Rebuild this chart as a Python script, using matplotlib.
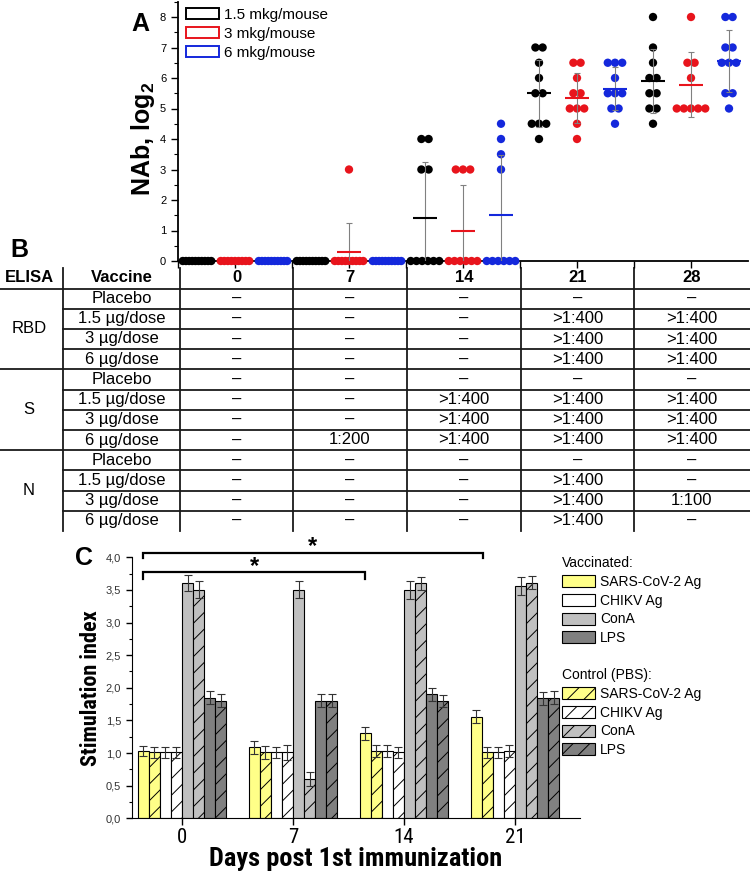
import numpy as np
import matplotlib
matplotlib.use("Agg")
import matplotlib.pyplot as plt
from matplotlib import font_manager as fm
from matplotlib.patches import Patch
from matplotlib.ticker import MultipleLocator, FuncFormatter, FixedLocator, NullFormatter

plt.rcParams['font.family'] = ['Liberation Sans', 'DejaVu Sans']
plt.rcParams['mathtext.fontset'] = 'custom'
plt.rcParams['mathtext.rm'] = 'Liberation Sans'
plt.rcParams['mathtext.bf'] = 'Liberation Sans:bold'
plt.rcParams['hatch.linewidth'] = 0.7

# ---------------- panel A: neutralising antibodies (log2) per mouse
doses_a = ["1.5 mkg/mouse", "3 mkg/mouse", "6 mkg/mouse"]
dose_colors = ["black", "#e8141c", "#1428dc"]
nab_day0 = [[0] * 10, [0] * 9, [0] * 10]
nab_day7 = [[0] * 10, [3] + [0] * 9, [0] * 10]
nab_day14 = [[4, 4, 3, 3, 0, 0, 0, 0, 0, 0],
             [3, 3, 3, 0, 0, 0, 0, 0, 0],
             [4.5, 4, 3.5, 3, 0, 0, 0, 0, 0, 0]]
nab_day21 = [[7, 7, 6.5, 6, 5.5, 5.5, 4.5, 4.5, 4.5, 4],
             [6.5, 6.5, 6, 5.5, 5.5, 5, 5, 5, 4.5, 4],
             [6.5, 6.5, 6.5, 6, 5.5, 5.5, 5.5, 5, 5, 4.5]]
nab_day28 = [[8, 7, 6.5, 6, 6, 5.5, 5.5, 5, 5, 4.5],
             [8, 6.5, 6.5, 6, 5, 5, 5, 5, 5],
             [8, 8, 7, 7, 6.5, 6.5, 6.5, 5.5, 5.5, 5]]
nab_all = [nab_day0, nab_day7, nab_day14, nab_day21, nab_day28]

# ---------------- panel B: ELISA table
table_header = ["ELISA", "Vaccine", "0", "7", "14", "21", "28"]
antigens = ["RBD", "S", "N"]
vaccines = ["Placebo", "1.5 µg/dose", "3 µg/dose", "6 µg/dose"]
D = "–"
P = ">1:400"
elisa_rbd = [[D, D, D, D, D], [D, D, D, P, P], [D, D, D, P, P], [D, D, D, P, P]]
elisa_s = [[D, D, D, D, D], [D, D, P, P, P], [D, D, P, P, P], [D, "1:200", P, P, P]]
elisa_n = [[D, D, D, D, D], [D, D, D, P, D], [D, D, D, P, "1:100"], [D, D, D, P, D]]

# ---------------- panel C: stimulation index
days_c = ["0", "7", "14", "21"]
sars_vac = [1.03, 1.09, 1.30, 1.56]
sars_vac_err = [0.08, 0.10, 0.10, 0.10]
sars_pbs = [1.01, 1.01, 1.03, 1.01]
sars_pbs_err = [0.08, 0.10, 0.09, 0.08]
chikv_vac = [1.01, 1.01, 1.03, 1.01]
chikv_vac_err = [0.08, 0.08, 0.09, 0.08]
chikv_pbs = [1.01, 1.01, 1.01, 1.03]
chikv_pbs_err = [0.08, 0.12, 0.08, 0.09]
cona_vac = [3.61, 3.50, 3.50, 3.56]
cona_vac_err = [0.12, 0.13, 0.14, 0.14]
cona_pbs = [3.50, 0.60, 3.60, 3.61]
cona_pbs_err = [0.13, 0.11, 0.10, 0.10]
lps_vac = [1.85, 1.80, 1.90, 1.84]
lps_vac_err = [0.10, 0.10, 0.10, 0.10]
lps_pbs = [1.80, 1.80, 1.80, 1.85]
lps_pbs_err = [0.10, 0.10, 0.09, 0.10]
stim_labels = ["SARS-CoV-2 Ag", "CHIKV Ag", "ConA", "LPS"]
stim_colors = ["#ffff88", "white", "#c0c0c0", "#808080"]


def condensed_font(bold):
    # look for an Arial-Narrow-like face; None if nothing condensed is installed
    for fam in ['Liberation Sans Narrow', 'Roboto Condensed', 'Open Sans Condensed',
                'Noto Sans', 'Roboto', 'Open Sans', 'DejaVu Sans']:
        try:
            p = fm.findfont(fm.FontProperties(family=fam, weight='bold' if bold else 'normal',
                                              stretch='condensed'), fallback_to_default=False)
        except ValueError:
            continue
        name = p.split('/')[-1]
        if ('Narrow' in name or 'ondensed' in name) and (('Bold' in name) == bold):
            return p
    return None


cond_bold = condensed_font(True)
cond_reg = condensed_font(False)
if cond_bold:
    xlab_fp = fm.FontProperties(fname=cond_bold, size=19)
    ylab_fp = fm.FontProperties(fname=cond_bold, size=16)
else:
    xlab_fp = fm.FontProperties(family='Liberation Sans', weight='bold', size=16)
    ylab_fp = fm.FontProperties(family='Liberation Sans', weight='bold', size=13)
if cond_reg:
    xtick_fp = fm.FontProperties(fname=cond_reg, size=15)
else:
    xtick_fp = fm.FontProperties(family='Liberation Sans', size=14)

W, H = 750, 877
fig = plt.figure(figsize=(W / 100, H / 100), dpi=100)


def px_box(left, top, right, bottom):
    return [left / W, 1 - bottom / H, (right - left) / W, (bottom - top) / H]


def swarm_offsets(vals):
    vals = np.asarray(vals, dtype=float)
    off = np.zeros(len(vals))
    for v in np.unique(vals):
        idx = np.where(vals == v)[0]
        k = len(idx)
        if k > 1:
            step = min(0.19, 0.75 / (k - 1))
            off[idx] = (np.arange(k) - (k - 1) / 2) * step
    return off


# ================= A
ax_a = fig.add_axes(px_box(178, 1.75, 748, 261))
for d, day_groups in enumerate(nab_all):
    for j, vals in enumerate(day_groups):
        xc = d * 3 + j + 0.5
        vals = np.asarray(vals, dtype=float)
        ax_a.scatter(xc + swarm_offsets(vals), vals, s=36, color=dose_colors[j],
                     edgecolors='none', zorder=3, clip_on=False)
        m = vals.mean()
        sd = vals.std(ddof=1)
        if sd > 0:
            ax_a.errorbar(xc, m, yerr=sd, fmt='none', ecolor='#808080', elinewidth=0.8,
                          capsize=2.2, capthick=0.8, zorder=4)
        ax_a.plot([xc - 0.32, xc + 0.32], [m, m], color=dose_colors[j], lw=1.5,
                  zorder=5, solid_capstyle='butt', clip_on=False)

ax_a.set_xlim(0, 15)
ax_a.set_ylim(0, 8.5)
ax_a.xaxis.set_major_locator(FixedLocator(np.arange(0, 15, 1.5)))
ax_a.xaxis.set_major_formatter(NullFormatter())
ax_a.yaxis.set_major_locator(MultipleLocator(1))
ax_a.yaxis.set_minor_locator(MultipleLocator(0.5))
ax_a.tick_params(axis='both', which='major', direction='out', length=5, width=1, labelsize=8)
ax_a.tick_params(axis='y', which='minor', direction='out', length=3, width=0.8)
for s in ['top', 'right']:
    ax_a.spines[s].set_visible(False)
for s in ['left', 'bottom']:
    ax_a.spines[s].set_linewidth(1.3)
ax_a.set_ylabel(r"NAb, log$_\mathbf{2}$", fontsize=18, fontweight='bold')
ax_a.yaxis.set_label_coords(-0.036, 0.47)
handles_a = [Patch(facecolor='white', edgecolor=c, linewidth=1.4) for c in dose_colors]
ax_a.legend(handles_a, doses_a, loc='upper left', bbox_to_anchor=(186 / W, 1 - 8 / H),
            bbox_transform=fig.transFigure, frameon=False, fontsize=11,
            handlelength=2.15, handleheight=0.78, handletextpad=0.35,
            labelspacing=0.31, borderpad=0, borderaxespad=0)

# ================= B (table drawn in pixel space)
ax_t = fig.add_axes([0, 0, 1, 1], zorder=-1)
ax_t.set_xlim(0, W)
ax_t.set_ylim(H, 0)
ax_t.axis('off')
col_edges = [63, 180, 293, 407, 521, 634]
col_centers = [29, 121.5, 236.5, 350, 464, 577.5, 692]
head_y, head_line, row_h = 278, 288.5, 20.2
lc, lw = '#1a1a1a', 1.3
for x in col_edges:
    ax_t.plot([x, x], [268, 531], color=lc, lw=lw)
ax_t.plot([0, W], [head_line, head_line], color=lc, lw=lw)
for h, x in zip(table_header, col_centers):
    ax_t.text(x, head_y, h, ha='center', va='center', fontsize=12, fontweight='bold')
blocks = [elisa_rbd, elisa_s, elisa_n]
r = 0
for a, (ag, block) in enumerate(zip(antigens, blocks)):
    top = head_line + r * row_h
    ax_t.text(col_centers[0], top + 2 * row_h, ag, ha='center', va='center', fontsize=12)
    for k, (vac, cells) in enumerate(zip(vaccines, block)):
        yc = head_line + (r + 0.5) * row_h
        ax_t.text(col_centers[1], yc, vac, ha='center', va='center', fontsize=12)
        for c, txt in enumerate(cells):
            ax_t.text(col_centers[c + 2], yc, txt, ha='center', va='center', fontsize=12)
        r += 1
        if r < 12:
            ybound = head_line + r * row_h
            x0 = 0 if k == 3 else col_edges[0]
            ax_t.plot([x0, W], [ybound, ybound], color=lc, lw=lw)

# ================= C
ax_c = fig.add_axes(px_box(131.7, 557.3, 580, 818.3))
xg = np.arange(len(days_c))
series = [
    (sars_vac, sars_vac_err, stim_colors[0], None),
    (sars_pbs, sars_pbs_err, stim_colors[0], '//'),
    (chikv_vac, chikv_vac_err, stim_colors[1], None),
    (chikv_pbs, chikv_pbs_err, stim_colors[1], '//'),
    (cona_vac, cona_vac_err, stim_colors[2], None),
    (cona_pbs, cona_pbs_err, stim_colors[2], '//'),
    (lps_vac, lps_vac_err, stim_colors[3], None),
    (lps_pbs, lps_pbs_err, stim_colors[3], '//'),
]
bw = 0.1
offsets = (np.arange(len(series)) - (len(series) - 1) / 2) * bw
for off, (vals, errs, col, hatch) in zip(offsets, series):
    ax_c.bar(xg + off, vals, width=bw, color=col, edgecolor='black', linewidth=0.8,
             hatch=hatch, zorder=2)
    ax_c.errorbar(xg + off, vals, yerr=errs, fmt='none', ecolor='#333333',
                  elinewidth=0.8, capsize=2.8, capthick=0.8, zorder=3)

ax_c.set_xlim(-0.453, 3.586)
ax_c.set_ylim(0, 4.0)
ax_c.set_xticks(xg)
ax_c.set_xticklabels(days_c)
for t in ax_c.get_xticklabels():
    t.set_fontproperties(xtick_fp)
ax_c.yaxis.set_major_locator(MultipleLocator(0.5))
ax_c.yaxis.set_minor_locator(MultipleLocator(0.25))
ax_c.yaxis.set_major_formatter(FuncFormatter(lambda v, p: f"{v:.1f}".replace('.', ',')))
ax_c.tick_params(axis='x', direction='out', length=5, width=1, pad=2)
ax_c.tick_params(axis='y', which='major', direction='out', length=4, width=1,
                 labelsize=8, labelcolor='#333333')
ax_c.tick_params(axis='y', which='minor', direction='out', length=2.5, width=0.8)
for s in ['top', 'right']:
    ax_c.spines[s].set_visible(False)
ax_c.set_ylabel("Stimulation index", fontproperties=ylab_fp)
ax_c.yaxis.set_label_coords(-0.066, 0.5)
ax_c.set_xlabel("Days post 1st immunization", fontproperties=xlab_fp)
ax_c.xaxis.set_label_coords(0.5, -0.11)


def bracket(ax, x0, x1, y, drop, star_base):
    ax.plot([x0, x0, x1, x1], [y - drop, y, y, y - drop], color='black', lw=1.6,
            clip_on=False, solid_joinstyle='miter')
    ax.text((x0 + x1) / 2, star_base, "*", ha='center', va='baseline', fontsize=17,
            fontweight='bold', clip_on=False)


bracket(ax_c, xg[0] + offsets[0], xg[3] + offsets[0] + 0.06, 4.07, 0.08, 4.06)
bracket(ax_c, xg[0] + offsets[0], xg[2] + offsets[0], 3.78, 0.11, 3.76)

vac_handles = [Patch(facecolor=c, edgecolor='black', linewidth=0.8) for c in stim_colors]
pbs_handles = [Patch(facecolor=c, edgecolor='black', linewidth=0.8, hatch='//') for c in stim_colors]
leg_kw = dict(loc='upper left', frameon=False, fontsize=10, title_fontsize=10,
              alignment='left', handlelength=2.35, handleheight=0.95,
              handletextpad=0.4, labelspacing=0.345, borderpad=0, borderaxespad=0)
fig.legend(vac_handles, stim_labels, title="Vaccinated:",
           bbox_to_anchor=(562 / W, 1 - 556 / H), **leg_kw)
fig.legend(pbs_handles, stim_labels, title="Control (PBS):",
           bbox_to_anchor=(562 / W, 1 - 668 / H), **leg_kw)

# panel letters
for letter, (x, y) in zip("ABC", [(140, 24), (19, 250), (84, 558)]):
    fig.text(x / W, 1 - y / H, letter, ha='center', va='center', fontsize=18, fontweight='bold')

fig.savefig("out.png", dpi=100)
